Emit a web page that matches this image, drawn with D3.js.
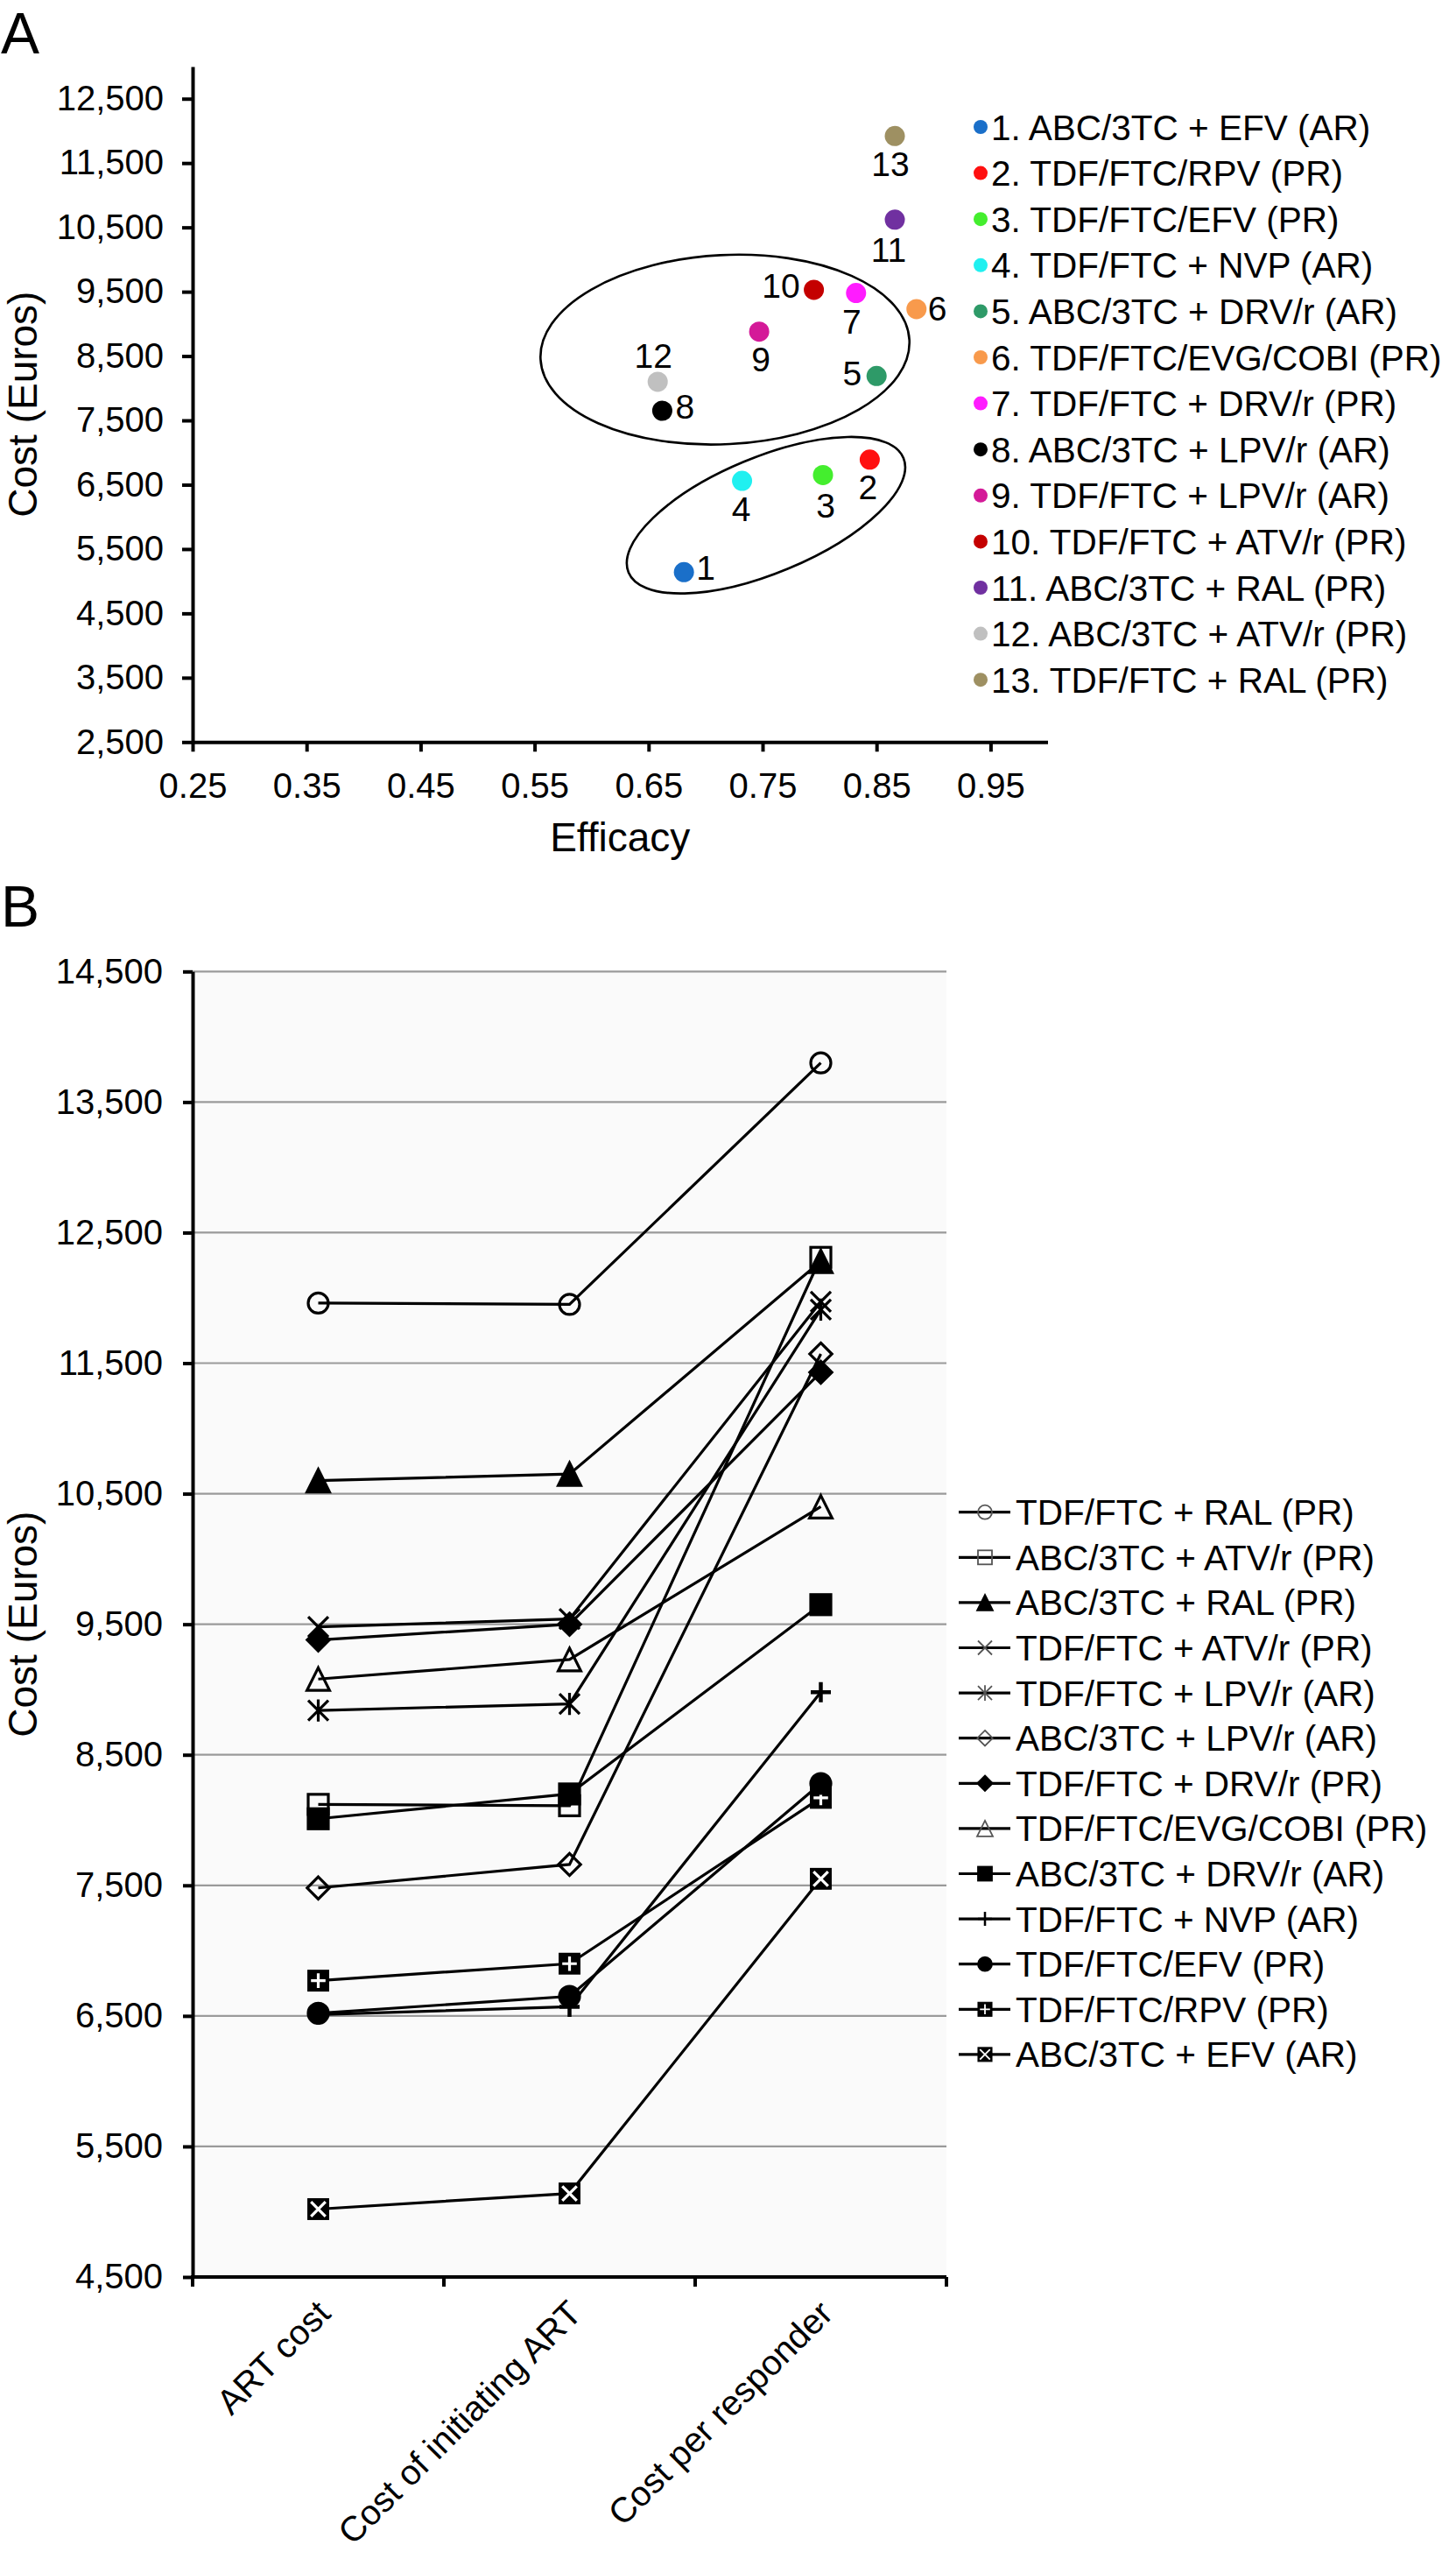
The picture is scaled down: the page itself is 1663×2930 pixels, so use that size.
<!DOCTYPE html>
<html>
<head>
<meta charset="utf-8">
<script src="https://cdn.jsdelivr.net/npm/d3@7"></script>
<style>
    body { margin: 0; background: #fff; }
    text { font-family: "Liberation Sans", Arial, Helvetica, sans-serif; fill: #000; }
</style>
</head>
<body>
<div id="chart"></div>
<script>

/*
 *  Panel A data - efficacy vs cost of initiating ART
 */
var regimensA = ["ABC/3TC + EFV (AR)", "TDF/FTC/RPV (PR)", "TDF/FTC/EFV (PR)", "TDF/FTC + NVP (AR)",
    "ABC/3TC + DRV/r (AR)", "TDF/FTC/EVG/COBI (PR)", "TDF/FTC + DRV/r (PR)", "ABC/3TC + LPV/r (AR)",
    "TDF/FTC + LPV/r (AR)", "TDF/FTC + ATV/r (PR)", "ABC/3TC + RAL (PR)", "ABC/3TC + ATV/r (PR)",
    "TDF/FTC + RAL (PR)"];
var efficacy = [0.681, 0.844, 0.803, 0.732, 0.850, 0.885, 0.832, 0.662, 0.747, 0.795, 0.866, 0.658, 0.866];
var initCostA = [5140, 6890, 6650, 6560, 8190, 9230, 9480, 7650, 8880, 9530, 10620, 8100, 11920];
var dotColors = ["#1a6fc9", "#ff1010", "#44ee2e", "#20f0f0", "#2e9a68", "#f89a4c", "#ff1cff",
    "#000000", "#d41a98", "#c40000", "#7030a0", "#c0c0c0", "#9e9062"];
var xTicksA = [0.25, 0.35, 0.45, 0.55, 0.65, 0.75, 0.85, 0.95];
var yTicksA = [2500, 3500, 4500, 5500, 6500, 7500, 8500, 9500, 10500, 11500, 12500];

/*
 *  Panel B data - three cost measures per regimen (legend order)
 */
var costCategories = ["ART cost", "Cost of initiating ART", "Cost per responder"];
var seriesNames = ["TDF/FTC + RAL (PR)", "ABC/3TC + ATV/r (PR)", "ABC/3TC + RAL (PR)", "TDF/FTC + ATV/r (PR)",
    "TDF/FTC + LPV/r (AR)", "ABC/3TC + LPV/r (AR)", "TDF/FTC + DRV/r (PR)", "TDF/FTC/EVG/COBI (PR)",
    "ABC/3TC + DRV/r (AR)", "TDF/FTC + NVP (AR)", "TDF/FTC/EFV (PR)", "TDF/FTC/RPV (PR)", "ABC/3TC + EFV (AR)"];
var artCost = [11960, 8120, 10600, 9480, 8840, 7480, 9380, 9080, 8010, 6510, 6520, 6770, 5020];
var initiatingCost = [11950, 8110, 10650, 9540, 8890, 7660, 9500, 9230, 8200, 6570, 6650, 6900, 5140];
var costPerResponder = [13800, 12310, 12280, 11970, 11910, 11570, 11430, 10400, 9650, 8980, 8280, 8170, 7550];
var markerTypes = ["circle", "square", "triangle", "x", "asterisk", "diamond", "diamond", "triangle",
    "square", "plus", "circle", "squarePlus", "squareX"];
var markerFilled = [false, false, true, false, false, false, true, false, true, true, true, true, true];
var yTicksB = [4500, 5500, 6500, 7500, 8500, 9500, 10500, 11500, 12500, 13500, 14500];


var width = 1663, height = 2930;

var svg = d3.select("#chart").append("svg")
    .attr("width", width)
    .attr("height", height);


/* ---------------- Panel A ---------------- */

var xA = d3.scaleLinear().domain([0.25, 1.0]).range([220, 1196.5]);
var yA = d3.scaleLinear().domain([2500, 13000]).range([847.3, 76]);

var gA = svg.append("g");

gA.append("text").attr("x", 1).attr("y", 61).attr("font-size", 66).text("A");

// ellipses grouping regimens (centre/radii in data units)
var clusters = [
    { eff: 0.717, cost: 8600, effRadius: 0.162, costRadius: 1470, tilt: -3 },
    { eff: 0.753, cost: 6026, effRadius: 0.1306, costRadius: 899, tilt: -22.6 }
];
gA.selectAll(".cluster")
    .data(clusters)
    .enter().append("ellipse")
    .attr("class", "cluster")
    .attr("transform", function (d) { return "translate(" + xA(d.eff) + "," + yA(d.cost) + ") rotate(" + d.tilt + ")"; })
    .attr("rx", function (d) { return xA(d.eff + d.effRadius) - xA(d.eff); })
    .attr("ry", function (d) { return yA(d.cost - d.costRadius) - yA(d.cost); })
    .attr("fill", "none")
    .attr("stroke", "#000")
    .attr("stroke-width", 2.6);

// axes
var yAxisA = gA.append("g")
    .attr("transform", "translate(" + xA(0.25) + ",0)")
    .call(d3.axisLeft(yA).tickValues(yTicksA).tickFormat(d3.format(",")).tickSize(12).tickSizeOuter(0).tickPadding(21));
var xAxisA = gA.append("g")
    .attr("transform", "translate(0," + yA(2500) + ")")
    .call(d3.axisBottom(xA).tickValues(xTicksA).tickFormat(d3.format(".2f")).tickSize(11).tickSizeOuter(0).tickPadding(24));

[yAxisA, xAxisA].forEach(function (ax) {
    ax.select(".domain").attr("stroke", "#000").attr("stroke-width", 4);
    ax.selectAll(".tick line").attr("stroke", "#000").attr("stroke-width", 4);
    ax.selectAll(".tick text").attr("font-size", 40).attr("fill", "#000")
        .attr("font-family", "Liberation Sans, Arial, sans-serif");
});

gA.append("text")
    .attr("transform", "translate(42," + ((yA(2500) + yA(13000)) / 2) + ") rotate(-90)")
    .attr("text-anchor", "middle")
    .attr("font-size", 46)
    .text("Cost (Euros)");

gA.append("text")
    .attr("x", (xA(0.25) + xA(1.0)) / 2)
    .attr("y", 972)
    .attr("text-anchor", "middle")
    .attr("font-size", 46)
    .text("Efficacy");

// points
var pointsA = regimensA.map(function (name, i) {
    return { num: i + 1, name: name, eff: efficacy[i], cost: initCostA[i], color: dotColors[i] };
});

gA.selectAll(".dotA")
    .data(pointsA)
    .enter().append("circle")
    .attr("class", "dotA")
    .attr("cx", function (d) { return xA(d.eff); })
    .attr("cy", function (d) { return yA(d.cost); })
    .attr("r", 11.5)
    .attr("fill", function (d) { return d.color; });

// number labels next to points
var labelPlace = {
    1: [14, 9, "start"], 2: [-2, 45, "middle"], 3: [3, 49, "middle"], 4: [-1, 46, "middle"],
    5: [-17, 11, "end"], 6: [13, 13, "start"], 7: [-5, 46, "middle"], 8: [15, 9, "start"],
    9: [2, 45, "middle"], 10: [-16, 9, "end"], 11: [-7, 48, "middle"], 12: [-5, -16, "middle"],
    13: [-5, 46, "middle"]
};
gA.selectAll(".numA")
    .data(pointsA)
    .enter().append("text")
    .attr("class", "numA")
    .attr("x", function (d) { return xA(d.eff) + labelPlace[d.num][0]; })
    .attr("y", function (d) { return yA(d.cost) + labelPlace[d.num][1]; })
    .attr("text-anchor", function (d) { return labelPlace[d.num][2]; })
    .attr("font-size", 39)
    .text(function (d) { return d.num; });

// legend A
var legA = gA.selectAll(".legA")
    .data(pointsA)
    .enter().append("g")
    .attr("class", "legA")
    .attr("transform", function (d, i) { return "translate(1120," + (145 + i * 52.6) + ")"; });
legA.append("circle").attr("r", 8).attr("fill", function (d) { return d.color; });
legA.append("text")
    .attr("x", 12)
    .attr("dy", "0.36em")
    .attr("font-size", 40.5)
    .text(function (d) { return d.num + ". " + d.name; });


/* ---------------- Panel B ---------------- */

var xB = d3.scaleBand().domain(costCategories).range([220, 1081]);
var yB = d3.scaleLinear().domain([4500, 14500]).range([2600, 1109.3]);
var cx = function (c) { return xB(c) + xB.bandwidth() / 2; };

var gB = svg.append("g");

gB.append("text").attr("x", 1).attr("y", 1058).attr("font-size", 66).text("B");

gB.append("rect")
    .attr("x", xB.range()[0])
    .attr("y", yB(14500))
    .attr("width", xB.range()[1] - xB.range()[0])
    .attr("height", yB(4500) - yB(14500))
    .attr("fill", "#fafafa");

gB.selectAll(".grid")
    .data(yTicksB.slice(1))
    .enter().append("line")
    .attr("class", "grid")
    .attr("x1", xB.range()[0]).attr("x2", xB.range()[1])
    .attr("y1", function (d) { return yB(d); })
    .attr("y2", function (d) { return yB(d); })
    .attr("stroke", "#9a9a9a")
    .attr("stroke-width", 2.2);

var yAxisB = gB.append("g")
    .attr("transform", "translate(" + xB.range()[0] + ",0)")
    .call(d3.axisLeft(yB).tickValues(yTicksB).tickFormat(d3.format(",")).tickSize(11).tickSizeOuter(0).tickPadding(23));
yAxisB.select(".domain").attr("stroke", "#000").attr("stroke-width", 4);
yAxisB.selectAll(".tick line").attr("stroke", "#000").attr("stroke-width", 4);
yAxisB.selectAll(".tick text").attr("font-size", 40).attr("fill", "#000")
    .attr("font-family", "Liberation Sans, Arial, sans-serif");

// category axis: ticks on band boundaries, rotated labels
gB.append("line")
    .attr("x1", xB.range()[0] - 2).attr("x2", xB.range()[1])
    .attr("y1", yB(4500)).attr("y2", yB(4500))
    .attr("stroke", "#000").attr("stroke-width", 4);
var bounds = costCategories.map(function (c) { return xB(c); }).concat([xB.range()[1]]);
gB.selectAll(".catTick")
    .data(bounds)
    .enter().append("line")
    .attr("class", "catTick")
    .attr("x1", function (d) { return d; }).attr("x2", function (d) { return d; })
    .attr("y1", yB(4500)).attr("y2", yB(4500) + 11)
    .attr("stroke", "#000").attr("stroke-width", 4);
gB.selectAll(".catLabel")
    .data(costCategories)
    .enter().append("text")
    .attr("class", "catLabel")
    .attr("transform", function (d) { return "translate(" + (cx(d) + 16) + "," + (yB(4500) + 44) + ") rotate(-45)"; })
    .attr("text-anchor", "end")
    .attr("font-size", 40)
    .text(function (d) { return d; });

gB.append("text")
    .attr("transform", "translate(42," + ((yB(4500) + yB(14500)) / 2) + ") rotate(-90)")
    .attr("text-anchor", "middle")
    .attr("font-size", 46)
    .text("Cost (Euros)");

// marker drawing
function drawMarker(g, type, filled, r, sw, col) {
    var fill = filled ? col : "none";
    var p;
    if (type === "circle") {
        g.append("circle").attr("r", r).attr("fill", fill).attr("stroke", col).attr("stroke-width", sw);
    } else if (type === "square") {
        g.append("rect").attr("x", -r).attr("y", -r).attr("width", 2 * r).attr("height", 2 * r)
            .attr("fill", fill).attr("stroke", col).attr("stroke-width", sw);
    } else if (type === "triangle") {
        p = r * 1.12;
        g.append("path").attr("d", "M0," + (-p) + "L" + p + "," + p + "L" + (-p) + "," + p + "Z")
            .attr("fill", fill).attr("stroke", col).attr("stroke-width", sw).attr("stroke-linejoin", "miter");
    } else if (type === "diamond") {
        p = r * 1.1;
        g.append("path").attr("d", "M0," + (-p) + "L" + p + ",0L0," + p + "L" + (-p) + ",0Z")
            .attr("fill", fill).attr("stroke", col).attr("stroke-width", sw);
    } else if (type === "x" || type === "asterisk") {
        p = r;
        var d = "M" + (-p) + "," + (-p) + "L" + p + "," + p + "M" + p + "," + (-p) + "L" + (-p) + "," + p;
        if (type === "asterisk") d += "M0," + (-p * 1.1) + "L0," + (p * 1.1);
        g.append("path").attr("d", d).attr("fill", "none").attr("stroke", col).attr("stroke-width", sw);
    } else if (type === "plus") {
        p = r;
        g.append("path").attr("d", "M" + (-p) + ",0L" + p + ",0M0," + (-p) + "L0," + p)
            .attr("fill", "none").attr("stroke", col).attr("stroke-width", sw * 1.4);
    } else if (type === "squarePlus" || type === "squareX") {
        g.append("rect").attr("x", -r).attr("y", -r).attr("width", 2 * r).attr("height", 2 * r)
            .attr("fill", col).attr("stroke", col).attr("stroke-width", sw * 0.6);
        p = r * 0.72;
        var inner = type === "squarePlus"
            ? "M" + (-p) + ",0L" + p + ",0M0," + (-p) + "L0," + p
            : "M" + (-p) + "," + (-p) + "L" + p + "," + p + "M" + p + "," + (-p) + "L" + (-p) + "," + p;
        g.append("path").attr("d", inner).attr("fill", "none").attr("stroke", "#fff").attr("stroke-width", sw);
    }
}

var seriesB = seriesNames.map(function (name, i) {
    return {
        name: name, type: markerTypes[i], filled: markerFilled[i],
        values: [
            { cat: costCategories[0], v: artCost[i] },
            { cat: costCategories[1], v: initiatingCost[i] },
            { cat: costCategories[2], v: costPerResponder[i] }
        ]
    };
});

var lineB = d3.line()
    .x(function (d) { return cx(d.cat); })
    .y(function (d) { return yB(d.v); });

var sB = gB.selectAll(".seriesB")
    .data(seriesB.slice().reverse())
    .enter().append("g")
    .attr("class", "seriesB");

sB.append("path")
    .attr("d", function (d) { return lineB(d.values); })
    .attr("fill", "none")
    .attr("stroke", "#000")
    .attr("stroke-width", 3.2);

sB.each(function (s) {
    var grp = d3.select(this);
    s.values.forEach(function (d) {
        var m = grp.append("g").attr("transform", "translate(" + cx(d.cat) + "," + yB(d.v) + ")");
        drawMarker(m, s.type, s.filled, 11.5, 3.2, "#000");
    });
});

// legend B
var legB = gB.selectAll(".legB")
    .data(seriesB)
    .enter().append("g")
    .attr("class", "legB")
    .attr("transform", function (d, i) { return "translate(1125," + (1726.7 + i * 51.6) + ")"; });
legB.append("line")
    .attr("x1", -30).attr("x2", 29)
    .attr("stroke", "#000").attr("stroke-width", 3.2);
legB.each(function (s) {
    var m = d3.select(this).append("g");
    drawMarker(m, s.type, s.filled, 8, 1.8, s.filled ? "#000" : "#555");
});
legB.append("text")
    .attr("x", 35)
    .attr("dy", "0.36em")
    .attr("font-size", 40.5)
    .text(function (d) { return d.name; });

</script>
</body>
</html>
